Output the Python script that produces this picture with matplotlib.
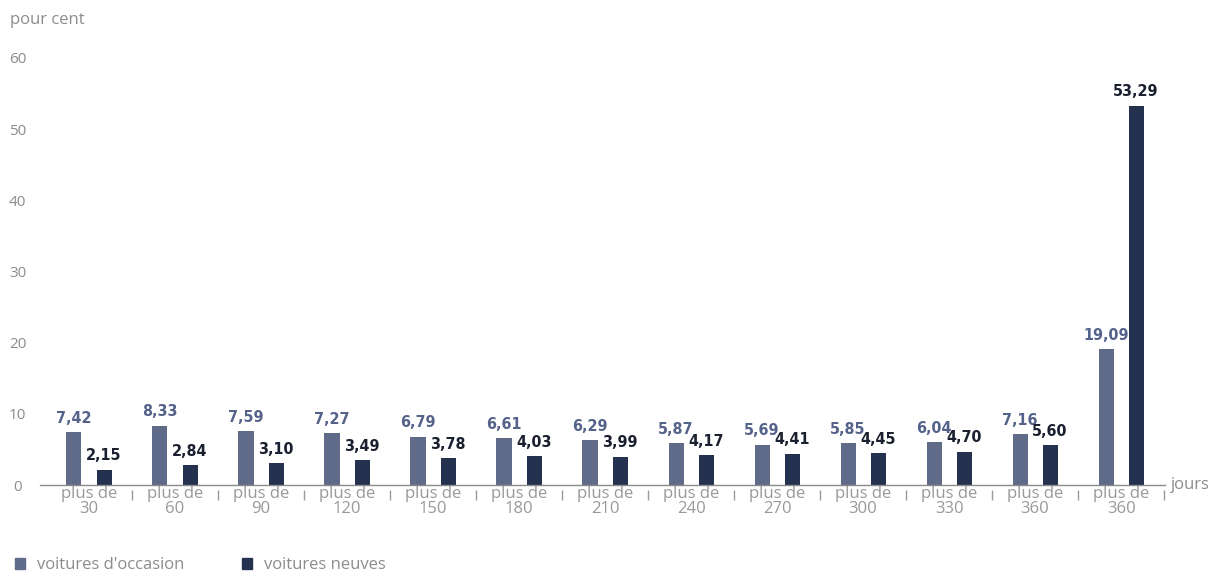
import numpy as np
import matplotlib.pyplot as plt
from matplotlib.patches import Patch

# Share of cars by days in stock
categories = ["plus de\n30", "plus de\n60", "plus de\n90", "plus de\n120", "plus de\n150",
              "plus de\n180", "plus de\n210", "plus de\n240", "plus de\n270", "plus de\n300",
              "plus de\n330", "plus de\n360", "plus de\n360"]
used = [7.42, 8.33, 7.59, 7.27, 6.79, 6.61, 6.29, 5.87, 5.69, 5.85, 6.04, 7.16, 19.09]
new = [2.15, 2.84, 3.10, 3.49, 3.78, 4.03, 3.99, 4.17, 4.41, 4.45, 4.70, 5.60, 53.29]
yticks = [0, 10, 20, 30, 40, 50, 60]

c_used = "#5f6b88"
c_new = "#243250"
grey = "#8c8c8c"
text_font = ["Open Sans", "DejaVu Sans"]

fig = plt.figure(figsize=(12.19, 5.74), dpi=100)
ax = fig.add_axes([0.0328, 0.155, 0.9229, 0.744])

x = np.arange(len(categories))
w = 0.175
ax.bar(x - w, used, width=w, color=c_used)
ax.bar(x + w, new, width=w, color=c_new)

def fmt(v):
    return f"{v:.2f}".replace(".", ",")

for xi, v in zip(x, used):
    ax.annotate(fmt(v), (xi - w, v), xytext=(0, 4.5), textcoords="offset points",
                ha="center", va="bottom", fontsize=11.5, color="#55628a",
                family="DejaVu Sans", fontstretch="condensed", fontweight="bold")
for xi, v in zip(x, new):
    ax.annotate(fmt(v), (xi + w, v), xytext=(0, 4.5), textcoords="offset points",
                ha="center", va="bottom", fontsize=11.5, color="#1b2030",
                family="DejaVu Sans", fontstretch="condensed", fontweight="bold")

ax.set_xlim(-0.57, 12.51)
ax.set_ylim(0, 60)
ax.set_yticks(yticks)
ax.set_yticklabels([str(t) for t in yticks], family=text_font, fontsize=11, color=grey, ha="center")
ax.tick_params(axis="y", length=0, pad=16)
ax.set_xticks(x)
ax.set_xticklabels(categories, family=text_font, fontsize=12, color="#999999", linespacing=0.85)
ax.tick_params(axis="x", length=0, pad=1)

for s in ["top", "right", "left"]:
    ax.spines[s].set_visible(False)
ax.spines["bottom"].set_color("#8a8a8a")
ax.spines["bottom"].set_linewidth(1.0)

# separators between day classes
ax.vlines(x + 0.5, -0.012, -0.034, transform=ax.get_xaxis_transform(),
          color="#9a9a9a", lw=1, clip_on=False)

fig.text(0.008, 0.966, "pour cent", family=text_font, fontsize=12, color=grey, va="center")
ax.text(1.005, 0.0, "jours", transform=ax.transAxes, family=text_font, fontsize=12,
        color=grey, va="center", ha="left")

handles = [Patch(color=c_used), Patch(color=c_new)]
fig.legend(handles, ["voitures d'occasion", "voitures neuves"], loc="lower left",
           bbox_to_anchor=(0.0, -0.025), ncol=2, frameon=False, handlelength=0.6,
           handleheight=0.6, handletextpad=0.7, columnspacing=3.5,
           prop={"family": text_font, "size": 12}, labelcolor=grey)

fig.savefig("out.png", dpi=100)
